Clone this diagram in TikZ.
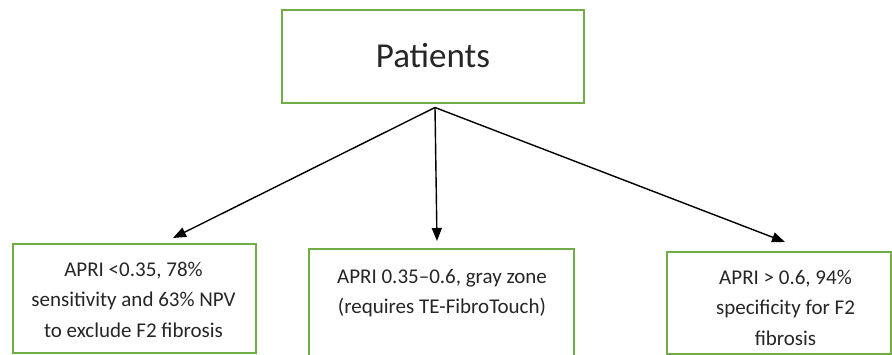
\documentclass[tikz,border=0pt]{standalone}
\usepackage{fontspec}
\setmainfont{Carlito}
\usetikzlibrary{arrows.meta,calc}
\definecolor{boxgreen}{HTML}{70AD47}
\tikzset{
  gbox/.style={draw=boxgreen, line width=2pt, fill=white, rectangle, inner sep=0pt},
  btext/.style={font=\fontsize{21}{30.5}\selectfont, align=center, anchor=base, inner sep=0pt, text=black!85},
  conn/.style={line width=1.4pt, -{Triangle[length=13pt,width=10pt]}}
}
\begin{document}
\begin{tikzpicture}[x=1pt,y=-1pt]
\useasboundingbox (0,0) rectangle (892,355);
\clip (0,0) rectangle (892,355);
\fill[white] (0,0) rectangle (892,355);
% top box
\node[gbox, minimum width=302pt, minimum height=93pt] (top) at (433,56.5) {};
\node[font=\fontsize{35}{40}\selectfont, anchor=base, inner sep=0pt, text=black!85] (ttext) at (433,68) {Patients};
% bottom boxes
\node[gbox, minimum width=243pt, minimum height=109pt] (left) at (134.5,298.5) {};
\node[gbox, minimum width=265pt, minimum height=130pt] (mid) at (441.5,314) {};
\node[gbox, minimum width=224pt, minimum height=102pt] (right) at (779,303) {};
\node[btext] (ltext) at (133.5,337.5) {APRI <0.35, 78\%\\sensitivity and 63\% NPV\\to exclude F2 fibrosis};
\node[btext] (mtext) at (442,314) {APRI 0.35–0.6, gray zone\\(requires TE-FibroTouch)};
\node[btext] (rtext) at (785.5,345.5) {APRI > 0.6, 94\%\\specificity for F2\\fibrosis};
% connectors
\coordinate (apex) at ($(top.south)+(2,3.5)$);
\coordinate (ltip) at ($(left.north)+(38.5,-5)$);
\coordinate (mtip) at ($(mid.north)+(-4.5,-7)$);
\coordinate (rtip) at ($(right.north)+(6,-9)$);
\draw[conn] (apex) -- (ltip);
\draw[conn] (apex) -- (mtip);
\draw[conn] (apex) -- (rtip);
\end{tikzpicture}
\end{document}
